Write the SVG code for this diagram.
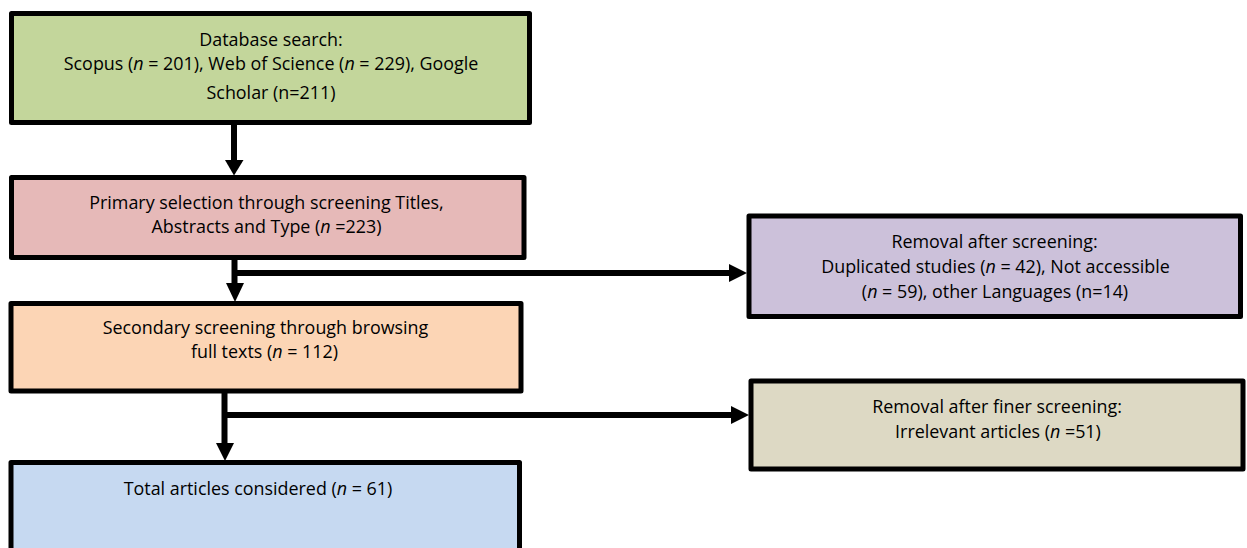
<svg xmlns="http://www.w3.org/2000/svg" width="1247" height="548" viewBox="0 0 1247 548">
<style>
.box{stroke:#000;stroke-width:5;stroke-linejoin:round}
.t{font-family:"Open Sans","Noto Sans",sans-serif;font-size:17.9px;fill:#000;text-anchor:middle}
.i{font-style:italic}
.ln{stroke:#000;stroke-width:6;fill:none}
.ah{fill:#000}
</style>
<rect width="1247" height="548" fill="#fff"/>
<g id="connectors">
<line class="ln" x1="234" y1="124" x2="234" y2="162"/>
<polygon class="ah" points="225,160 243.5,160 234,175.5"/>
<line class="ln" x1="234.5" y1="259" x2="234.5" y2="285"/>
<polygon class="ah" points="226,283 244,283 235,302"/>
<line class="ln" x1="234.5" y1="273" x2="731" y2="273"/>
<polygon class="ah" points="729,264 729,282 747,273"/>
<line class="ln" x1="224.5" y1="392" x2="224.5" y2="445"/>
<polygon class="ah" points="216,443 234,443 225,461"/>
<line class="ln" x1="224.5" y1="415" x2="733" y2="415"/>
<polygon class="ah" points="731,406 731,424 749,415"/>
</g>
<g id="n1">
<rect class="box" x="11.5" y="13.5" width="518" height="109" fill="#c3d69b"/>
<text class="t" x="271" y="46">Database search:</text>
<text class="t" x="271" y="70">Scopus (<tspan class="i">n</tspan> = 201), Web of Science (<tspan class="i">n</tspan> = 229), Google</text>
<text class="t" x="271" y="99">Scholar (n=211)</text>
</g>
<g id="n2">
<rect class="box" x="11.5" y="177.5" width="512.5" height="80" fill="#e6b9b8"/>
<text class="t" x="266.5" y="209">Primary selection through screening Titles,</text>
<text class="t" x="266.5" y="233">Abstracts and Type (<tspan class="i">n</tspan> =223)</text>
</g>
<g id="n3">
<rect class="box" x="11" y="303.5" width="510" height="87.5" fill="#fcd5b5"/>
<text class="t" x="265.5" y="334">Secondary screening through browsing</text>
<text class="t" x="264.5" y="358">full texts (<tspan class="i">n</tspan> = 112)</text>
</g>
<g id="n4">
<rect class="box" x="11" y="462.5" width="508.5" height="100" fill="#c6d9f1"/>
<text class="t" x="258" y="495">Total articles considered (<tspan class="i">n</tspan> = 61)</text>
</g>
<g id="n5">
<rect class="box" x="749" y="216" width="491.5" height="100.5" fill="#ccc1da"/>
<text class="t" x="994.5" y="248">Removal after screening:</text>
<text class="t" x="995.5" y="273">Duplicated studies (<tspan class="i">n</tspan> = 42), Not accessible</text>
<text class="t" x="995" y="298">(<tspan class="i">n</tspan> = 59), other Languages (n=14)</text>
</g>
<g id="n6">
<rect class="box" x="751" y="381" width="492" height="88" fill="#ddd9c4"/>
<text class="t" x="997" y="413">Removal after finer screening:</text>
<text class="t" x="998" y="438">Irrelevant articles (<tspan class="i">n</tspan> =51)</text>
</g>
</svg>
